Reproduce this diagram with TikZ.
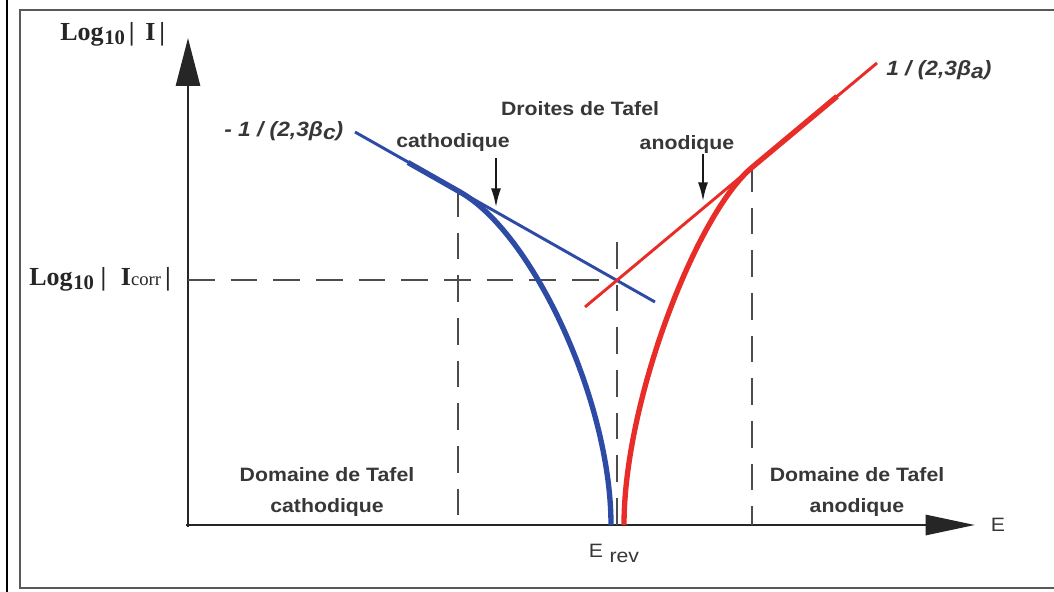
\documentclass[tikz,border=0pt]{standalone}
\usepackage{fontspec}
\setmainfont{Liberation Serif}
\newfontfamily\lblfont[FakeStretch=1.1]{Liberation Sans}
\usetikzlibrary{arrows.meta}
\definecolor{tblue}{RGB}{45,75,165}
\definecolor{tred}{RGB}{232,45,40}
\definecolor{txt}{RGB}{55,55,55}
\begin{document}
\begin{tikzpicture}[x=0.75pt,y=-0.75pt,
 lbl/.style={font=\lblfont\bfseries\fontsize{14.5}{23}\selectfont, text=txt, inner sep=0pt},
 beta/.style={font=\lblfont\bfseries\itshape\fontsize{15.5}{18}\selectfont, text=txt, inner sep=0pt},
 ser/.style={font=\bfseries\fontsize{19.5}{20}\selectfont, text=black!85, inner sep=0pt},
 axis/.style={line width=2.2pt, black!85},
 tafline/.style={line width=2.2pt},
 curve/.style={line width=4pt},
 guide/.style={line width=1.4pt, black!70, dash pattern=on 20pt off 12pt},
 marker/.style={line width=1.3pt, black!90, -{Latex[length=14pt,width=7.5pt]}}
]
\useasboundingbox (0,0) rectangle (1054,592);
% frame
\draw[line width=1.5pt] (7,0) -- (7,592);
\draw[line width=1.5pt, black!65] (1060,10) -- (20,10) -- (20,588) -- (1060,588);
% axes
\coordinate (O) at (188,527);
\coordinate (Ytip) at (188,38);
\coordinate (Xo) at (186,525);
\coordinate (Xtip) at (975,525);
\draw[axis, -{Triangle[length=36pt,width=18pt]}] (O) -- (Ytip);
\draw[axis, -{Triangle[length=37pt,width=15pt]}] (Xo) -- (Xtip);
% guides
\coordinate (h0) at (188,280); \coordinate (h1) at (620,280);
\coordinate (v1a) at (458,190); \coordinate (v1b) at (458,525);
\coordinate (v2a) at (617,242); \coordinate (v2b) at (617,525);
\coordinate (v3a) at (752,165); \coordinate (v3b) at (752,525);
\draw[guide] (h0) -- (h1);
\draw[guide] (v1a) -- (v1b);
\draw[guide] (v2a) -- (v2b);
\draw[guide] (v3a) -- (v3b);
% Tafel lines
\coordinate (bl0) at (355,132); \coordinate (bl1) at (655,302);
\coordinate (rl0) at (585,307); \coordinate (rl1) at (877,63);
\draw[tafline, tblue] (bl0) -- (bl1);
\draw[tafline, tred] (rl0) -- (rl1);
% polarisation curves
\draw[curve, tblue] (408,162.5) -- (460,192) .. controls (532,232.5) and (611,400) .. (611,525);
\draw[curve, tred] (837,96.4) -- (752,167.4) .. controls (697,213.4) and (624,400) .. (624,525);
% labels
\node[ser, anchor=west] (ylab) at (60,34) {Log\kern0.5pt\raisebox{-0.35ex}{\fontsize{15.5}{15}\selectfont 10}\kern3pt|\kern8pt I\kern3pt|};
\node[ser, anchor=west] (icorr) at (29,279) {Log\kern0.5pt\raisebox{-0.35ex}{\fontsize{15.5}{15}\selectfont 10}\kern5pt|\kern11pt I{\mdseries\fontsize{14}{14}\selectfont corr}\kern3pt|};
\node[beta, anchor=west] (betac) at (224,131) {- 1 / (2,3β\raisebox{-0.3ex}{c})};
\node[beta, anchor=west] (betaa) at (886,70) {1 / (2,3β\raisebox{-0.3ex}{a})};
\node[lbl] (title) at (580,109) {Droites de Tafel};
\node[lbl] (cath) at (453,143) {cathodique};
\node[lbl] (anod) at (687,145) {anodique};
\coordinate (catop) at (496,158); \coordinate (catip) at (496,207);
\coordinate (antop) at (703,154); \coordinate (antip) at (703,201);
\draw[marker] (catop) -- (catip);
\draw[marker] (antop) -- (antip);
\node[lbl, align=center] (domc) at (327,492) {Domaine de Tafel\\cathodique};
\node[lbl, align=center] (doma) at (857,492) {Domaine de Tafel\\anodique};
\node[lbl, font=\lblfont\fontsize{14.5}{17}\selectfont] (erev) at (614,553) {E\,\,\raisebox{-0.5ex}{rev}};
\node[lbl, font=\lblfont\fontsize{14.5}{17}\selectfont] (E) at (998,525) {E};
\end{tikzpicture}
\end{document}
